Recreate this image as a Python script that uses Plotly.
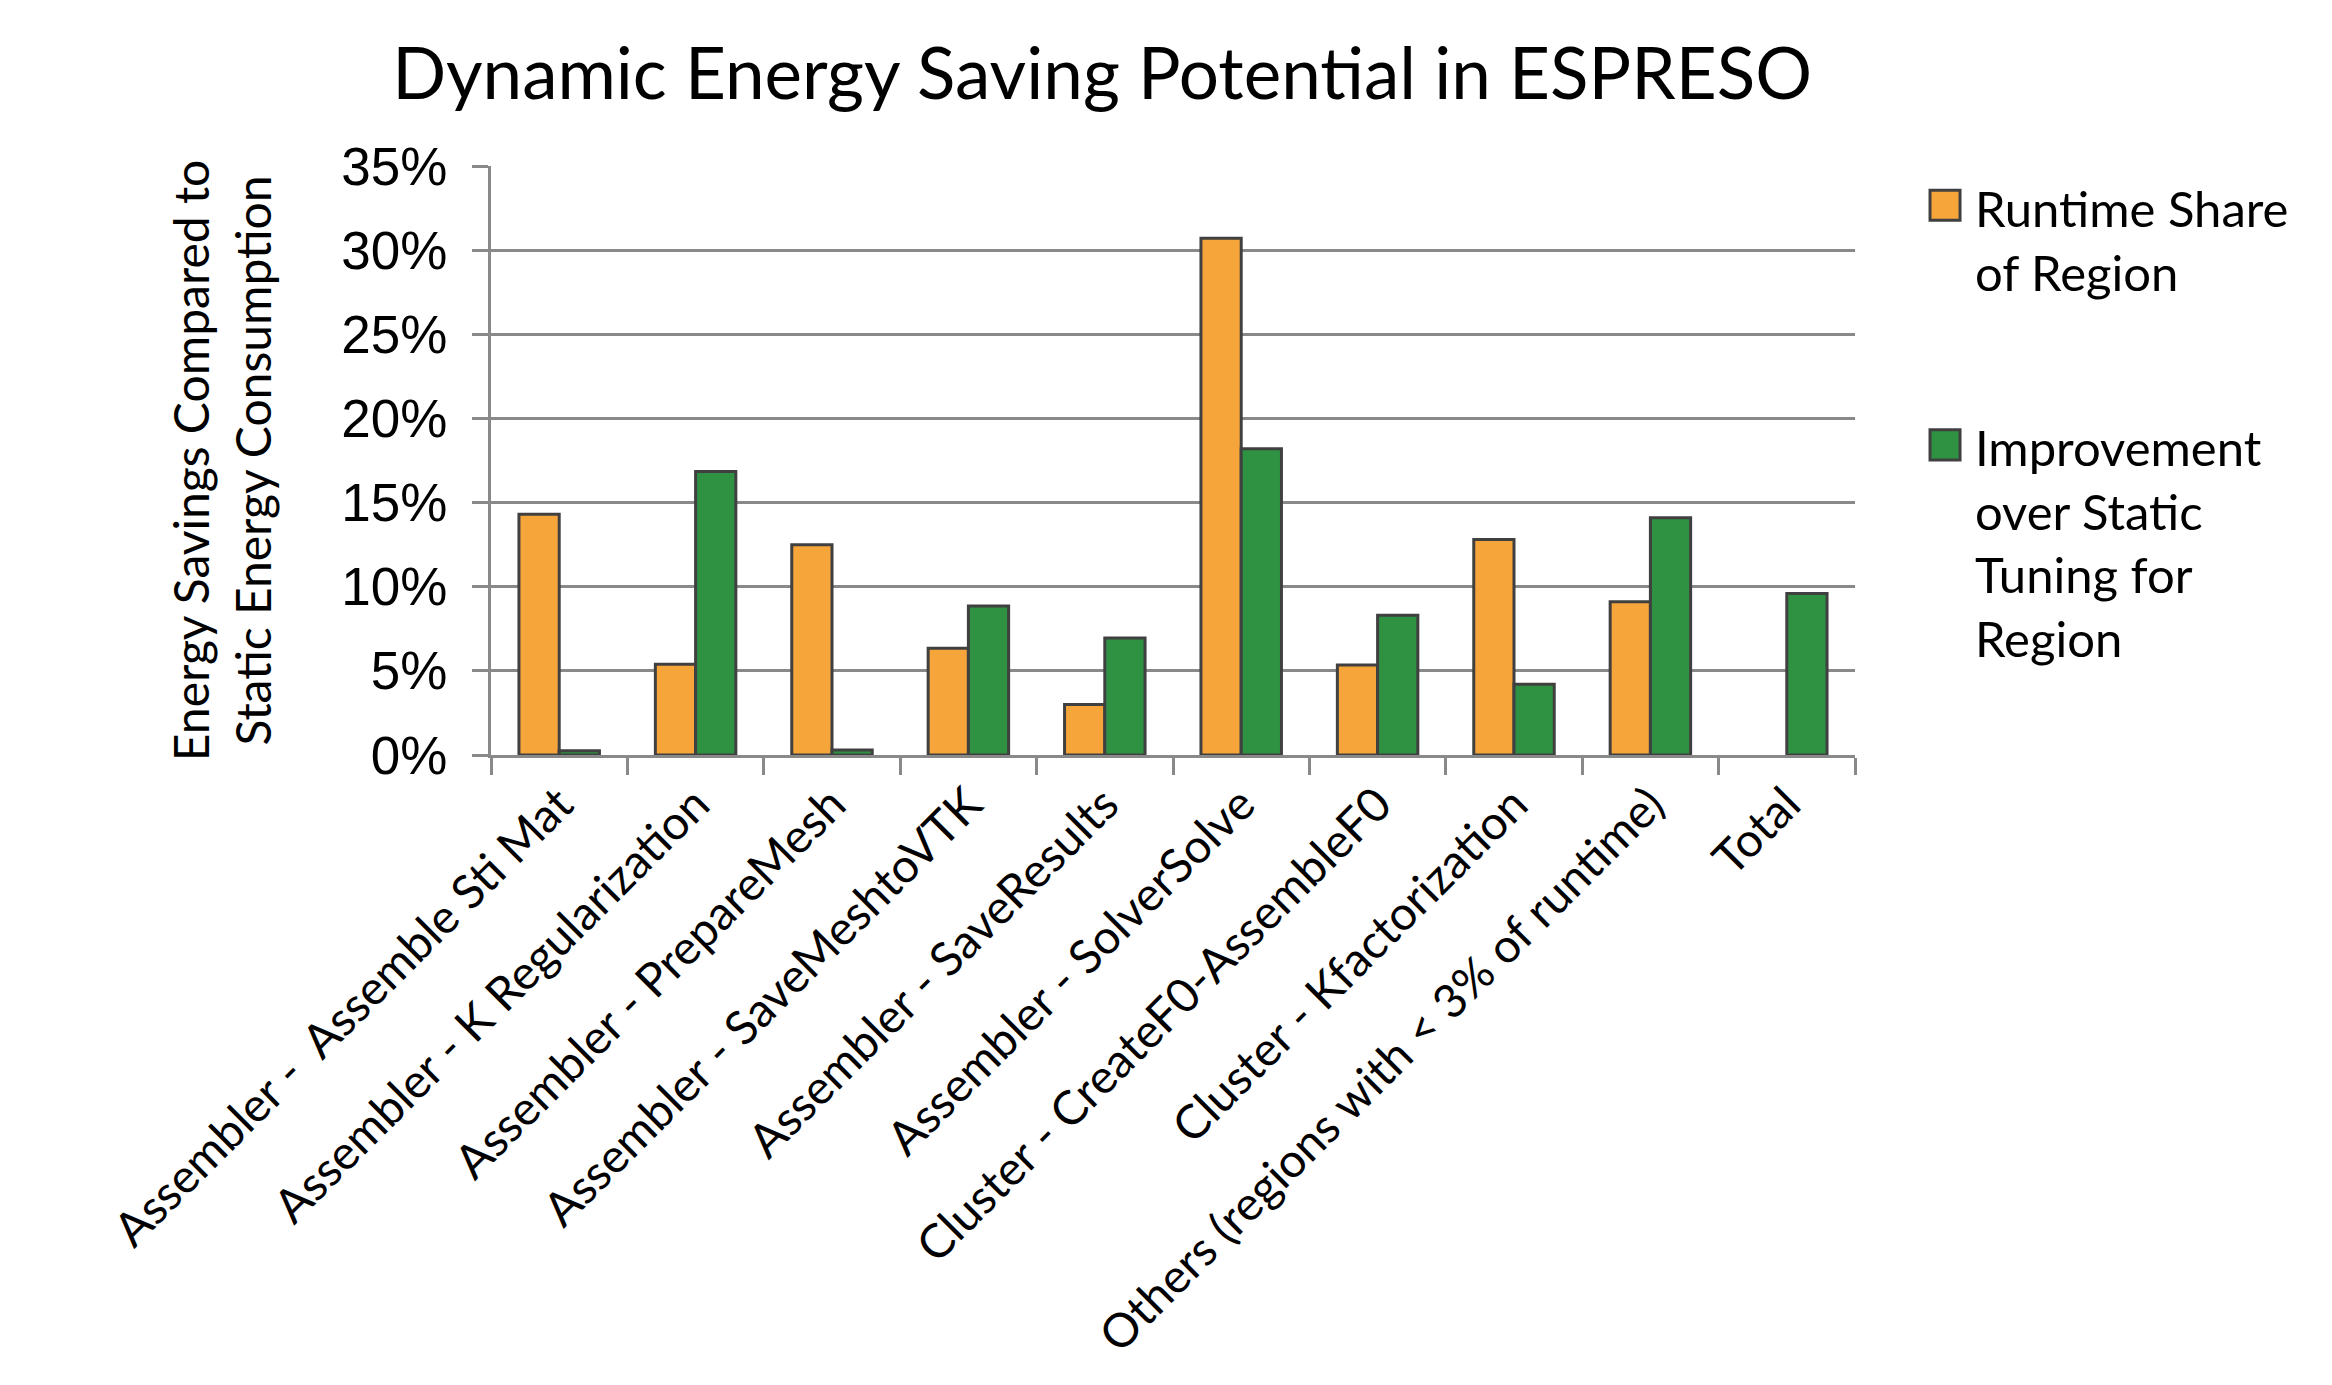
import plotly.graph_objects as go

categories = [
    "Assembler -  Assemble Sti Mat",
    "Assembler - K Regularization",
    "Assembler - PrepareMesh",
    "Assembler - SaveMeshtoVTK",
    "Assembler - SaveResults",
    "Assembler - SolverSolve",
    "Cluster - CreateF0-AssembleF0",
    "Cluster - Kfactorization",
    "Others (regions with < 3% of runtime)",
    "Total",
]
runtime_share = [14.3, 5.4, 12.5, 6.35, 3.0, 30.7, 5.35, 12.8, 9.1, None]
improvement = [0.25, 16.85, 0.3, 8.85, 6.95, 18.2, 8.3, 4.2, 14.1, 9.6]
y_ticks = [0, 5, 10, 15, 20, 25, 30, 35]
y_ticklabels = [f"{v}%" for v in y_ticks]

series_names = ["Runtime Share<br>of Region", "Improvement<br>over Static<br>Tuning for<br>Region"]
colors = ["#F6A53B", "#2E9242"]
outline = "#404040"

fig = go.Figure()
for name, vals, col in zip(series_names, [runtime_share, improvement], colors):
    fig.add_trace(go.Bar(
        x=categories, y=vals, name=name.replace("<br>", " "),
        marker=dict(color=col, line=dict(color=outline, width=3)),
        showlegend=False,
    ))

# Legend drawn with paper-referenced squares and text (larger swatches than native legend)
legend_sq = [(0.959, 0.908), (0.552, 0.501)]
legend_txt_y = [0.8744, 0.36]
for name, col, (yt, yb), ty in zip(series_names, colors, legend_sq, legend_txt_y):
    fig.add_shape(type="rect", xref="paper", yref="paper",
                  x0=1.055, x1=1.077, y0=yb, y1=yt,
                  fillcolor=col, line=dict(color=outline, width=3))
    fig.add_annotation(xref="paper", yref="paper", x=1.0865, y=ty,
                       xanchor="left", yanchor="middle", align="left",
                       text=name, showarrow=False,
                       font=dict(family="Lato", size=49, color="black"))

fig.update_layout(
    width=2332, height=1385,
    margin=dict(l=491, r=477, t=166, b=630),
    paper_bgcolor="white", plot_bgcolor="white",
    barmode="group", bargap=0.41, bargroupgap=0,
    title=dict(text="Dynamic Energy Saving Potential in ESPRESO",
               x=0.4726, xanchor="center", y=0.9466, yanchor="middle",
               font=dict(family="Lato", size=71, color="black")),
    showlegend=False,
)
fig.update_xaxes(
    type="category", tickangle=-45, tickson="boundaries",
    ticks="outside", ticklen=17, tickwidth=3, tickcolor="#898989",
    showline=True, linecolor="#898989", linewidth=3,
    showgrid=False, automargin=False,
    tickfont=dict(family="Lato", size=47, color="black"),
)
fig.update_yaxes(
    range=[0, 35], tickvals=y_ticks, ticktext=y_ticklabels,
    ticks="outside", ticklen=16, tickwidth=3, tickcolor="#898989",
    showline=True, linecolor="#898989", linewidth=3,
    showgrid=True, gridcolor="#898989", gridwidth=3,
    zeroline=False, ticklabelstandoff=14, automargin=False,
    tickfont=dict(family="Liberation Sans", size=53, color="black"),
    title=dict(text="Energy Savings Compared to<br>Static Energy Consumption",
               font=dict(family="Lato", size=48, color="black"), standoff=55),
)

fig.write_html("out.html")
